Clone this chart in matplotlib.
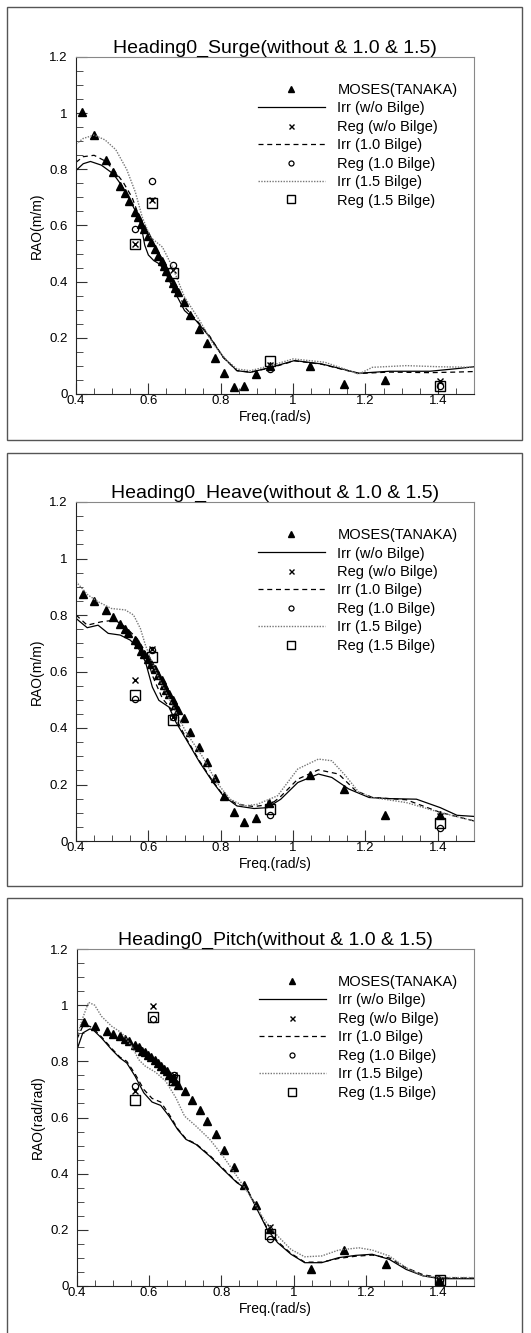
import matplotlib
matplotlib.use("Agg")
import matplotlib.pyplot as plt
from matplotlib.patches import Rectangle
from matplotlib.ticker import MultipleLocator

plt.rcParams['font.family'] = ['Liberation Sans', 'DejaVu Sans']

W, H = 531, 1333

# ---------------- Data ----------------
reg_freq = [0.562, 0.611, 0.669, 0.936, 1.405]

# Surge
surge_moses_x = [0.417, 0.449, 0.482, 0.503, 0.522, 0.536, 0.547, 0.562, 0.571, 0.581, 0.587,
                 0.599, 0.608, 0.617, 0.627, 0.637, 0.643, 0.650, 0.657, 0.667, 0.673, 0.681,
                 0.698, 0.716, 0.740, 0.761, 0.784, 0.809, 0.837, 0.865, 0.898, 0.935, 1.046,
                 1.142, 1.255]
surge_moses_y = [1.004, 0.921, 0.832, 0.790, 0.739, 0.715, 0.689, 0.647, 0.630, 0.604, 0.588,
                 0.564, 0.543, 0.517, 0.493, 0.475, 0.457, 0.437, 0.416, 0.396, 0.378, 0.362,
                 0.329, 0.283, 0.232, 0.181, 0.127, 0.074, 0.024, 0.030, 0.071, 0.100, 0.101,
                 0.036, 0.050]
surge_irr_wo_x = [0.40, 0.42, 0.44, 0.47, 0.503, 0.525, 0.545, 0.565, 0.58, 0.59, 0.60, 0.615,
                  0.632, 0.648, 0.676, 0.70, 0.732, 0.77, 0.807, 0.845, 0.882, 0.938, 1.004,
                  1.079, 1.182, 1.266, 1.378, 1.45, 1.5]
surge_irr_wo_y = [0.796, 0.820, 0.828, 0.815, 0.784, 0.745, 0.700, 0.650, 0.600, 0.530, 0.495,
                  0.475, 0.462, 0.430, 0.356, 0.297, 0.261, 0.202, 0.131, 0.083, 0.077, 0.095,
                  0.119, 0.107, 0.074, 0.081, 0.081, 0.090, 0.097]
surge_irr_10_x = [0.40, 0.42, 0.45, 0.48, 0.503, 0.53, 0.555, 0.575, 0.59, 0.60, 0.615, 0.63,
                  0.65, 0.676, 0.70, 0.732, 0.77, 0.807, 0.845, 0.882, 0.938, 1.004, 1.079,
                  1.182, 1.266, 1.378, 1.45, 1.5]
surge_irr_10_y = [0.825, 0.845, 0.850, 0.830, 0.800, 0.755, 0.700, 0.630, 0.590, 0.565, 0.530,
                  0.500, 0.455, 0.380, 0.310, 0.265, 0.205, 0.130, 0.083, 0.078, 0.093, 0.118,
                  0.106, 0.073, 0.078, 0.076, 0.078, 0.080]
surge_irr_15_x = [0.40, 0.42, 0.45, 0.48, 0.51, 0.54, 0.564, 0.583, 0.606, 0.639, 0.667, 0.70,
                  0.742, 0.779, 0.817, 0.845, 0.882, 0.938, 1.0, 1.088, 1.182, 1.219, 1.313,
                  1.406, 1.5]
surge_irr_15_y = [0.890, 0.910, 0.922, 0.905, 0.870, 0.800, 0.719, 0.630, 0.558, 0.523, 0.451,
                  0.345, 0.261, 0.178, 0.119, 0.089, 0.083, 0.101, 0.125, 0.113, 0.071, 0.095,
                  0.101, 0.097, 0.095]
surge_reg_wo = [0.535, 0.690, 0.440, 0.105, 0.045]
surge_reg_10 = [0.588, 0.758, 0.461, 0.089, 0.030]
surge_reg_15 = [0.535, 0.680, 0.431, 0.116, 0.030]

# Heave
heave_moses_x = [0.419, 0.449, 0.482, 0.503, 0.522, 0.536, 0.545, 0.562, 0.571, 0.581, 0.587,
                 0.599, 0.608, 0.617, 0.627, 0.637, 0.643, 0.650, 0.657, 0.667, 0.673, 0.681,
                 0.698, 0.716, 0.740, 0.761, 0.784, 0.809, 0.837, 0.865, 0.898, 0.934, 1.046,
                 1.142, 1.255, 1.405]
heave_moses_y = [0.874, 0.851, 0.818, 0.794, 0.768, 0.752, 0.737, 0.711, 0.697, 0.673, 0.661,
                 0.646, 0.628, 0.610, 0.586, 0.569, 0.551, 0.533, 0.521, 0.498, 0.480, 0.462,
                 0.435, 0.385, 0.332, 0.278, 0.222, 0.160, 0.103, 0.068, 0.083, 0.134, 0.235,
                 0.184, 0.091, 0.091]
heave_irr_wo_x = [0.40, 0.431, 0.461, 0.489, 0.522, 0.55, 0.573, 0.592, 0.611, 0.629, 0.657,
                  0.676, 0.704, 0.742, 0.779, 0.807, 0.845, 0.892, 0.929, 0.966, 1.013, 1.07,
                  1.107, 1.154, 1.21, 1.266, 1.341, 1.407, 1.453, 1.5]
heave_irr_wo_y = [0.788, 0.755, 0.764, 0.735, 0.729, 0.711, 0.681, 0.634, 0.545, 0.498, 0.474,
                  0.421, 0.361, 0.278, 0.207, 0.160, 0.124, 0.115, 0.118, 0.148, 0.207, 0.237,
                  0.225, 0.184, 0.154, 0.150, 0.148, 0.118, 0.091, 0.087]
heave_irr_10_x = [0.40, 0.431, 0.47, 0.508, 0.536, 0.569, 0.592, 0.611, 0.639, 0.662, 0.704,
                  0.742, 0.779, 0.807, 0.845, 0.892, 0.939, 0.966, 1.013, 1.07, 1.126, 1.173,
                  1.22, 1.313, 1.407, 1.5]
heave_irr_10_y = [0.800, 0.764, 0.776, 0.782, 0.758, 0.717, 0.669, 0.586, 0.504, 0.468, 0.365,
                  0.282, 0.210, 0.162, 0.130, 0.122, 0.130, 0.158, 0.219, 0.252, 0.237, 0.178,
                  0.154, 0.146, 0.101, 0.071]
heave_irr_15_x = [0.40, 0.433, 0.461, 0.498, 0.536, 0.559, 0.578, 0.592, 0.606, 0.629, 0.667,
                  0.704, 0.751, 0.789, 0.826, 0.864, 0.901, 0.957, 1.013, 1.07, 1.107, 1.145,
                  1.182, 1.22, 1.313, 1.407, 1.5]
heave_irr_15_y = [0.918, 0.871, 0.847, 0.823, 0.818, 0.800, 0.752, 0.693, 0.646, 0.575, 0.480,
                  0.385, 0.296, 0.207, 0.148, 0.124, 0.130, 0.160, 0.255, 0.290, 0.284, 0.231,
                  0.172, 0.154, 0.136, 0.101, 0.071]
heave_reg_wo = [0.569, 0.679, 0.440, 0.130, 0.090]
heave_reg_10 = [0.504, 0.675, 0.440, 0.091, 0.047]
heave_reg_15 = [0.518, 0.652, 0.427, 0.115, 0.063]

# Pitch
pitch_moses_x = [0.419, 0.449, 0.482, 0.500, 0.519, 0.533, 0.545, 0.561, 0.571, 0.580, 0.588,
                 0.596, 0.606, 0.615, 0.624, 0.634, 0.641, 0.649, 0.655, 0.665, 0.672, 0.681,
                 0.698, 0.718, 0.740, 0.761, 0.784, 0.808, 0.835, 0.864, 0.897, 0.934, 1.048,
                 1.141, 1.256, 1.404]
pitch_moses_y = [0.940, 0.925, 0.907, 0.898, 0.889, 0.881, 0.872, 0.857, 0.850, 0.838, 0.832,
                 0.824, 0.815, 0.804, 0.795, 0.783, 0.774, 0.765, 0.753, 0.741, 0.729, 0.714,
                 0.696, 0.664, 0.628, 0.587, 0.540, 0.486, 0.425, 0.358, 0.287, 0.204, 0.062,
                 0.127, 0.079, 0.021]
pitch_irr_wo_x = [0.40, 0.416, 0.435, 0.444, 0.468, 0.496, 0.519, 0.538, 0.561, 0.585, 0.608,
                  0.632, 0.655, 0.679, 0.702, 0.73, 0.768, 0.805, 0.843, 0.871, 0.899, 0.927,
                  0.956, 0.993, 1.031, 1.078, 1.125, 1.172, 1.218, 1.265, 1.312, 1.359, 1.406,
                  1.5]
pitch_irr_wo_y = [0.842, 0.901, 0.915, 0.913, 0.883, 0.842, 0.812, 0.794, 0.747, 0.688, 0.655,
                  0.643, 0.605, 0.557, 0.522, 0.504, 0.462, 0.415, 0.368, 0.344, 0.273, 0.202,
                  0.154, 0.113, 0.083, 0.083, 0.101, 0.109, 0.113, 0.095, 0.059, 0.036, 0.026,
                  0.026]
pitch_irr_10_x = [0.40, 0.416, 0.435, 0.444, 0.468, 0.496, 0.519, 0.538, 0.561, 0.585, 0.608,
                  0.632, 0.655, 0.679, 0.702, 0.73, 0.768, 0.805, 0.843, 0.871, 0.899, 0.927,
                  0.956, 0.993, 1.031, 1.078, 1.125, 1.172, 1.218, 1.265, 1.312, 1.359, 1.406,
                  1.5]
pitch_irr_10_y = [0.880, 0.925, 0.925, 0.918, 0.887, 0.846, 0.815, 0.800, 0.755, 0.700, 0.668,
                  0.655, 0.612, 0.560, 0.524, 0.506, 0.465, 0.418, 0.370, 0.346, 0.278, 0.205,
                  0.158, 0.116, 0.085, 0.085, 0.098, 0.106, 0.110, 0.100, 0.065, 0.040, 0.030,
                  0.028]
pitch_irr_15_x = [0.40, 0.416, 0.432, 0.449, 0.468, 0.496, 0.524, 0.552, 0.571, 0.589, 0.618,
                  0.646, 0.674, 0.698, 0.73, 0.768, 0.805, 0.843, 0.88, 0.918, 0.956, 0.993,
                  1.031, 1.078, 1.125, 1.181, 1.218, 1.265, 1.312, 1.359, 1.406, 1.5]
pitch_irr_15_y = [0.889, 0.955, 1.010, 1.000, 0.960, 0.925, 0.901, 0.854, 0.806, 0.783, 0.761,
                  0.729, 0.670, 0.605, 0.569, 0.522, 0.462, 0.391, 0.320, 0.237, 0.178, 0.130,
                  0.104, 0.107, 0.128, 0.136, 0.128, 0.107, 0.065, 0.036, 0.030, 0.030]
pitch_reg_wo = [0.694, 0.998, 0.750, 0.210, 0.020]
pitch_reg_10 = [0.711, 0.949, 0.753, 0.166, 0.020]
pitch_reg_15 = [0.662, 0.958, 0.732, 0.184, 0.020]

labels = ["MOSES(TANAKA)", "Irr (w/o Bilge)", "Reg (w/o Bilge)", "Irr (1.0 Bilge)",
          "Reg (1.0 Bilge)", "Irr (1.5 Bilge)", "Reg (1.5 Bilge)"]
titles = ["Heading0_Surge(without & 1.0 & 1.5)", "Heading0_Heave(without & 1.0 & 1.5)",
          "Heading0_Pitch(without & 1.0 & 1.5)"]
ylabels = ["RAO(m/m)", "RAO(m/m)", "RAO(rad/rad)"]

panels = [
    (surge_moses_x, surge_moses_y, surge_irr_wo_x, surge_irr_wo_y, surge_irr_10_x, surge_irr_10_y,
     surge_irr_15_x, surge_irr_15_y, surge_reg_wo, surge_reg_10, surge_reg_15),
    (heave_moses_x, heave_moses_y, heave_irr_wo_x, heave_irr_wo_y, heave_irr_10_x, heave_irr_10_y,
     heave_irr_15_x, heave_irr_15_y, heave_reg_wo, heave_reg_10, heave_reg_15),
    (pitch_moses_x, pitch_moses_y, pitch_irr_wo_x, pitch_irr_wo_y, pitch_irr_10_x, pitch_irr_10_y,
     pitch_irr_15_x, pitch_irr_15_y, pitch_reg_wo, pitch_reg_10, pitch_reg_15),
]

# ---------------- Layout ----------------
fig = plt.figure(figsize=(W / 100, H / 100), dpi=100)
fig.patch.set_facecolor('white')

borders = [(7, 7, 522, 440), (7, 453, 522, 886), (7, 898, 522, 1340)]
axes_px = [(76, 57, 474, 394), (76, 502, 474, 841), (77, 949, 474, 1286)]


def fig_rect(l, t, r, b):
    return [l / W, 1 - b / H, (r - l) / W, (b - t) / H]


for (l, t, r, b) in borders:
    x0, y0, w, h = fig_rect(l, t, r, b)
    fig.patches.append(Rectangle((x0, y0), w, h, transform=fig.transFigure, fill=False,
                                 edgecolor='#555555', linewidth=1.0, zorder=0))

for i, (pan, ap) in enumerate(zip(panels, axes_px)):
    (mx, my, wx, wy, ax10, ay10, ax15, ay15, rwo, r10, r15) = pan
    ax = fig.add_axes(fig_rect(*ap))
    h_moses, = ax.plot(mx, my, linestyle='none', marker='^', color='black', markersize=5.5)
    h_wo, = ax.plot(wx, wy, color='black', linewidth=0.9, linestyle='-')
    h_rwo, = ax.plot(reg_freq, rwo, linestyle='none', marker='x', color='black', markersize=4.5,
                     markeredgewidth=1.0)
    h_10, = ax.plot(ax10, ay10, color='black', linewidth=0.9, linestyle=(0, (4, 3)))
    h_r10, = ax.plot(reg_freq, r10, linestyle='none', marker='o', markerfacecolor='none',
                     markeredgecolor='black', markersize=4.5, markeredgewidth=0.9)
    h_15, = ax.plot(ax15, ay15, color='#777777', linewidth=1.0, linestyle=(0, (1, 1)))
    h_r15, = ax.plot(reg_freq, r15, linestyle='none', marker='s', markerfacecolor='none',
                     markeredgecolor='black', markersize=6.5, markeredgewidth=1.0)

    ax.set_xlim(0.4, 1.5)
    ax.set_ylim(0, 1.2)
    ax.xaxis.set_major_locator(MultipleLocator(0.2))
    ax.xaxis.set_minor_locator(MultipleLocator(0.05))
    ax.yaxis.set_major_locator(MultipleLocator(0.2))
    ax.yaxis.set_minor_locator(MultipleLocator(0.05))
    ax.xaxis.set_major_formatter(matplotlib.ticker.FuncFormatter(lambda v, p: f"{v:g}"))
    ax.yaxis.set_major_formatter(matplotlib.ticker.FuncFormatter(lambda v, p: f"{v:g}"))
    ax.tick_params(which='both', direction='in', top=False, right=False, labelsize=9.5,
                   color='#333333')
    ax.tick_params(axis='x', which='major', length=8, pad=1)
    ax.tick_params(axis='x', which='minor', length=4)
    ax.tick_params(axis='y', which='major', length=8, pad=6)
    ax.tick_params(axis='y', which='minor', length=5)
    for s in ['left', 'bottom']:
        ax.spines[s].set_color('#222222')
    for s in ['top', 'right']:
        ax.spines[s].set_color('#888888')
    ax.set_title(titles[i], fontsize=14, pad=3)
    ax.set_xlabel("Freq.(rad/s)", fontsize=10, labelpad=2)
    ax.set_ylabel(ylabels[i], fontsize=10, labelpad=4)

    ax.legend([h_moses, h_wo, h_rwo, h_10, h_r10, h_15, h_r15], labels, frameon=False,
              loc='upper left', bbox_to_anchor=((263 - 76) / 398 - 0.02, 1 - (80 - 57) / 337),
              fontsize=10.5, handlelength=4.6, handletextpad=0.85, labelspacing=0.305,
              borderpad=0.2, borderaxespad=0, markerscale=0.8)

fig.savefig("out.png", dpi=100, facecolor='white')
